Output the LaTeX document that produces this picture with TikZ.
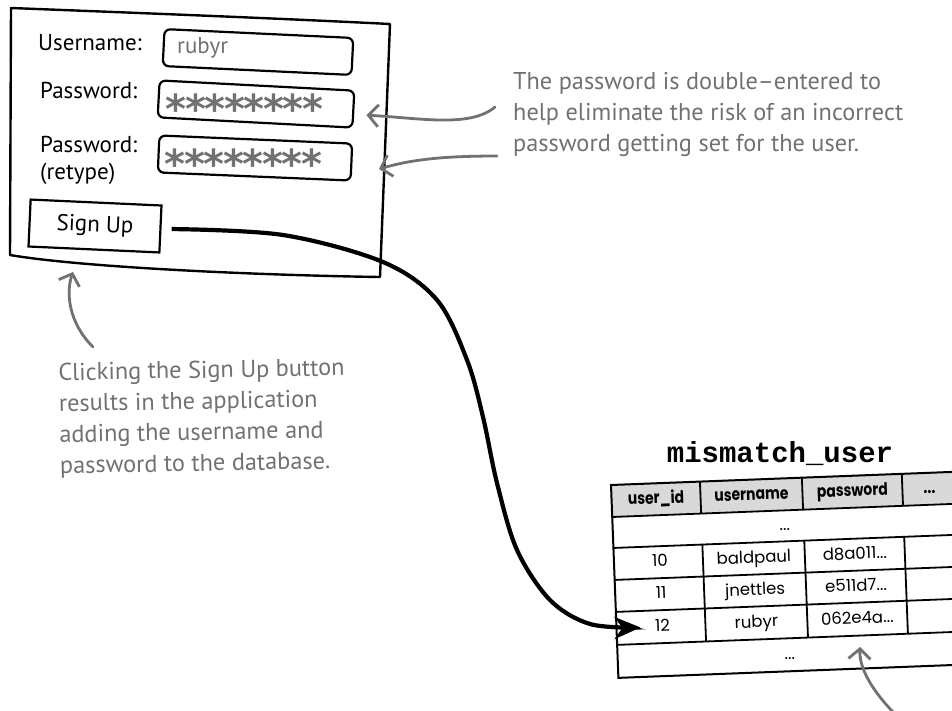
\documentclass[tikz,border=0pt]{standalone}
\usepackage{fontspec}
\usetikzlibrary{arrows.meta}
\newfontfamily\hand{PT Sans}
\newfontfamily\datafont{Poppins}
\newfontfamily\headfont{Poppins}[FakeStretch=0.82]
\newfontfamily\monofont{Liberation Mono}
\newfontfamily\starfont{DejaVu Sans}
\definecolor{hfgray}{RGB}{112,113,115}
\definecolor{headgray}{RGB}{217,217,217}
\newcommand\pwst{\makebox[19.5pt]{*}}
\begin{document}
\begin{tikzpicture}[x=1pt,y=-1pt,
  frame/.style={line width=2.4pt, line join=round, line cap=round},
  inbox/.style={draw, line width=2.2pt, rounded corners=6pt, inner sep=0pt},
  btn/.style={draw, line width=2.2pt, inner sep=0pt},
  lbl/.style={font=\hand\fontsize{23}{27}\selectfont, anchor=base west, inner sep=0pt},
  note/.style={font=\hand\fontsize{24.3}{31}\selectfont, text=hfgray, align=left, inner sep=0pt, anchor=north west},
  stars/.style={font=\starfont\bfseries\fontsize{40}{40}\selectfont, text=hfgray, anchor=base west, inner sep=0pt},
  garrow/.style={draw=hfgray, line width=2.8pt, line cap=round, -{Straight Barb[length=10pt,width=22pt]}},
  flow/.style={line width=4.2pt, -{Stealth[length=26pt,width=22pt,inset=8pt]}},
  cell/.style={font=\datafont\fontsize{16.5}{19}\selectfont, anchor=center, inner sep=0pt, text height=12pt, text depth=3pt},
  hcell/.style={font=\headfont\bfseries\fontsize{17}{20}\selectfont, anchor=center, inner sep=0pt, text height=12pt, text depth=3pt},
  tline/.style={line width=1.8pt}
]
\useasboundingbox (0,0) rectangle (952,710);
\clip (0,0) rectangle (952,710);

% window
\draw[frame] (11,8) .. controls (140,13) and (270,18) .. (390,24) -- (380,277)
  .. controls (250,275) and (80,267) .. (10,255) -- cycle;

\node[inbox, minimum width=189pt, minimum height=37pt, rotate=-2.7] (ubox) at (258,52) {};
\node[inbox, minimum width=195pt, minimum height=37pt, rotate=-3] (pw1) at (256,104) {};
\node[inbox, minimum width=193pt, minimum height=37pt, rotate=-2.4] (pw2) at (255,158) {};
\node[btn, minimum width=131pt, minimum height=47pt, rotate=-2.6, font=\hand\fontsize{23}{27}\selectfont] (su) at (95,226) {Sign Up};

\node[lbl] (lu) at (38,50) {Username:};
\node[lbl] (lp1) at (40,98) {Password:};
\node[lbl, align=left, anchor=north west] (lp2) at (40,136) {Password:\\(retype)};

\node[lbl, text=hfgray] (uval) at (177,53) {rubyr};
\node[stars] (s1) at (166,123) {\pwst\pwst\pwst\pwst\pwst\pwst\pwst\pwst};
\node[stars] (s2) at (165,178) {\pwst\pwst\pwst\pwst\pwst\pwst\pwst\pwst};

% notes
\node[note] (cap1) at (513,72) {The password is double–entered to\\help eliminate the risk of an incorrect\\password getting set for the user.};
\node[note, rotate=1] (cap2) at (58,363) {Clicking the Sign Up button\\results in the application\\adding the username and\\password to the database.};

% table
\node[font=\monofont\bfseries\fontsize{29}{29}\selectfont, anchor=base, inner sep=0pt] (title) at (780,462) {mismatch\_user};
\begin{scope}[shift={(611,485)}, rotate=2.2, transform shape]
  \fill[headgray] (0,0) rectangle (345,32);
  \draw[line width=2pt] (0,0) rectangle (345,193);
  \foreach \y in {32,63,95,127,160} \draw[tline] (0,\y) -- (345,\y);
  \foreach \x in {89,191,291} {\draw[tline] (\x,0) -- (\x,32); \draw[tline] (\x,63) -- (\x,160);}
  \node[hcell] (h1) at (44.5,16) {user\_id};
  \node[hcell] (h2) at (140,16) {username};
  \node[hcell] (h3) at (241,16) {password};
  \node[hcell] (h4) at (318,16) {...};
  \node[cell] (d0) at (172,47.5) {...};
  \node[cell] (a1) at (46,79) {10};
  \node[cell] (b1) at (140,79) {baldpaul};
  \node[cell] (c1) at (241,79) {d8a011...};
  \node[cell] (a2) at (46,111) {11};
  \node[cell] (b2) at (140,111) {jnettles};
  \node[cell] (c2) at (241,111) {e511d7...};
  \node[cell] (a3) at (46,143.5) {12};
  \node[cell] (b3) at (140,143.5) {rubyr};
  \node[cell] (c3) at (241,143.5) {062e4a...};
  \node[cell] (d9) at (172,176.5) {...};
  \coordinate (r12) at (24,143.5);
\end{scope}

% connectors
\coordinate (s0) at ([xshift=10pt]su.east);
\draw[flow] plot[smooth, tension=0.55] coordinates {(s0) (283,235) (383,262) (437,300) (467,360) (483,417) (497,483) (517,550) (550,600) (590,624) (r12)};

\coordinate (a1s) at (495,107);
\draw[garrow] (a1s) .. controls (470,128) and (420,118) .. ([shift={(12,6)}]pw1.east);
\coordinate (a2s) at (497,156);
\coordinate (a2e) at (379,169);
\draw[garrow] (a2s) .. controls (440,156) and (410,160) .. (a2e);
\coordinate (a3s) at (93,347);
\coordinate (a3e) at (73,272);
\draw[garrow] (a3s) .. controls (68,322) and (66,292) .. (a3e);
\coordinate (a4s) at (893,712);
\coordinate (a4e) at (860,647);
\draw[garrow] (a4s) .. controls (872,690) and (859,668) .. (a4e);
\end{tikzpicture}
\end{document}
